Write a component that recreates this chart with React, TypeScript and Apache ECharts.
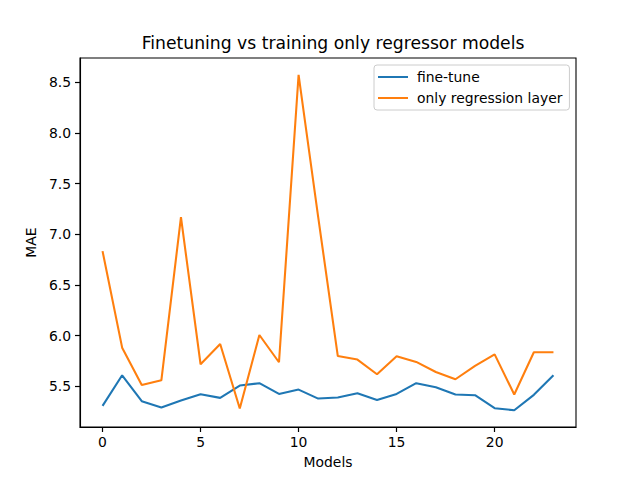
import React, { useEffect, useRef } from "react";
import * as echarts from "echarts";

const models = Array.from({ length: 24 }, (_, i) => i);
const fineTune = [
  5.306, 5.608, 5.352, 5.29, 5.359, 5.421, 5.385, 5.507, 5.53, 5.424, 5.467, 5.378,
  5.388, 5.431, 5.365, 5.424, 5.53, 5.49, 5.418, 5.411, 5.283, 5.263, 5.415, 5.608,
];
const onlyRegression = [
  6.834, 5.881, 5.513, 5.559, 7.169, 5.717, 5.917, 5.28, 6.006, 5.737, 8.576, 7.17,
  5.798, 5.763, 5.618, 5.796, 5.74, 5.641, 5.569, 5.7, 5.815, 5.418, 5.835, 5.835,
];
const xTicks = [0, 5, 10, 15, 20];
const yTicks = [5.5, 6.0, 6.5, 7.0, 7.5, 8.0, 8.5];
const seriesNames = ["fine-tune", "only regression layer"];
const colors = ["#1f77b4", "#ff7f0e"];

const FONT = "DejaVu Sans";

export default function App() {
  const ref = useRef<HTMLDivElement>(null);
  useEffect(() => {
    if (!ref.current) return;
    const chart = echarts.init(ref.current, undefined, { renderer: "svg" });
    const all = [...fineTune, ...onlyRegression];
    const dmin = Math.min(...all);
    const dmax = Math.max(...all);
    const pad = (dmax - dmin) * 0.05;
    const xmin = models[0] - (models[models.length - 1] - models[0]) * 0.05;
    const xmax = models[models.length - 1] + (models[models.length - 1] - models[0]) * 0.05;
    chart.setOption({
      animation: false,
      color: colors,
      title: {
        text: "Finetuning vs training only regressor models",
        left: 328,
        top: 29,
        textAlign: "center",
        textStyle: { fontFamily: FONT, fontSize: 17.2, fontWeight: "normal", color: "#000" },
      },
      legend: {
        orient: "vertical",
        left: 374,
        top: 65,
        padding: [5, 7, 5, 4],
        itemGap: 7,
        itemWidth: 30,
        itemHeight: 2,
        icon: "rect",
        borderColor: "#cccccc",
        borderWidth: 1,
        borderRadius: 3,
        backgroundColor: "rgba(255,255,255,0.8)",
        textStyle: { fontFamily: FONT, fontSize: 13.9, color: "#000", lineHeight: 14, padding: [0, 0, 0, 4] },
        data: seriesNames,
      },
      grid: {
        left: 80,
        right: 64,
        top: 58,
        bottom: 53,
        show: true,
        borderColor: "#000",
        borderWidth: 1.1,
        backgroundColor: "#fff",
      },
      xAxis: {
        type: "value",
        min: xmin,
        max: xmax,
        name: "Models",
        nameLocation: "middle",
        nameGap: 28,
        nameTextStyle: { fontFamily: FONT, fontSize: 13.9, color: "#000" },
        axisLine: { show: true, onZero: false, lineStyle: { color: "#000", width: 1.1 } },
        splitLine: { show: false },
        axisTick: { show: true, length: 5, inside: false, lineStyle: { color: "#000", width: 1.2 }, customValues: xTicks },
        axisLabel: {
          fontFamily: FONT,
          fontSize: 13.9,
          color: "#000",
          margin: 8,
          customValues: xTicks,
          formatter: (v: number) => String(v),
        },
      },
      yAxis: {
        type: "value",
        position: "left",
        min: dmin - pad,
        max: dmax + pad,
        name: "MAE",
        nameLocation: "middle",
        nameGap: 36,
        nameTextStyle: { fontFamily: FONT, fontSize: 13.9, color: "#000" },
        axisLine: { show: true, onZero: false, lineStyle: { color: "#000", width: 1.1 } },
        splitLine: { show: false },
        axisTick: { show: true, length: 5, inside: false, lineStyle: { color: "#000", width: 1.2 }, customValues: yTicks },
        axisLabel: {
          fontFamily: FONT,
          fontSize: 13.9,
          color: "#000",
          margin: 9,
          customValues: yTicks,
          formatter: (v: number) => v.toFixed(1),
        },
      },
      series: [
        {
          name: seriesNames[0],
          type: "line",
          showSymbol: false,
          symbol: "none",
          lineStyle: { width: 2.08, color: colors[0] },
          data: models.map((m, i) => [m, fineTune[i]]),
        },
        {
          name: seriesNames[1],
          type: "line",
          showSymbol: false,
          symbol: "none",
          lineStyle: { width: 2.08, color: colors[1] },
          data: models.map((m, i) => [m, onlyRegression[i]]),
        },
      ],
    });
    return () => chart.dispose();
  }, []);
  return (
    <div
      ref={ref}
      style={{ position: "fixed", left: 0, top: 0, width: 640, height: 480, background: "#fff" }}
    />
  );
}
